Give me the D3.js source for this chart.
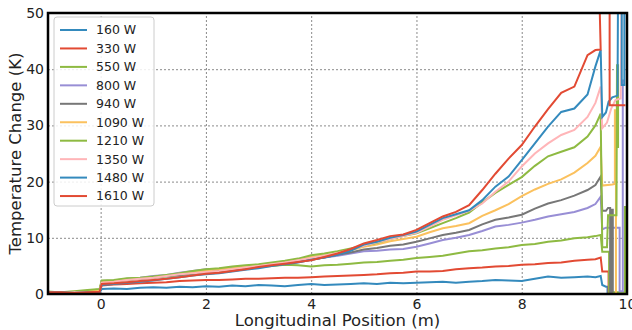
<!DOCTYPE html>
<html>
<head>
<meta charset="utf-8">
<script src="https://cdn.jsdelivr.net/npm/d3@7"></script>
<style>
  html, body { margin: 0; padding: 0; background: #fff; }
  svg { display: block; }
  text { font-family: "DejaVu Sans", sans-serif; fill: #222; }
</style>
</head>
<body>
<svg id="chart" width="632" height="330"></svg>
<script>
// ---------------- DATA ----------------
const categories = ["160 W", "330 W", "550 W", "800 W", "940 W", "1090 W", "1210 W", "1350 W", "1480 W", "1610 W"];
const xTicks = [0, 2, 4, 6, 8, 10];
const yTicks = [0, 10, 20, 30, 40, 50];

// shared longitudinal positions (m)
const positions = [-1, -0.75, -0.5, -0.25, -0.02, 0.02, 0.25, 0.5, 0.75, 1.0, 1.25, 1.5, 1.75, 2.0, 2.25, 2.5, 2.75, 3.0, 3.25, 3.5, 3.75, 4.0, 4.25, 4.5, 4.75, 5.0, 5.25, 5.5, 5.75, 6.0, 6.25, 6.5, 6.75, 7.0, 7.25, 7.5, 7.75, 8.0, 8.25, 8.5, 8.75, 9.0, 9.25, 9.4, 9.5];

const v160  = [0.3, 0.2, 0.2, 0.1, 0.2, 0.9, 1.0, 0.9, 1.1, 1.2, 1.1, 1.3, 1.2, 1.4, 1.3, 1.5, 1.4, 1.6, 1.5, 1.4, 1.6, 1.8, 1.6, 1.7, 1.8, 1.9, 1.8, 2.0, 1.9, 2.0, 2.1, 2.2, 2.0, 2.2, 2.3, 2.5, 2.4, 2.3, 2.7, 3.1, 2.9, 3.0, 3.1, 3.0, 3.2];
const v330  = [0.3, 0.2, 0.3, 0.2, 0.3, 1.5, 1.7, 1.8, 1.9, 2.0, 2.1, 2.3, 2.4, 2.5, 2.5, 2.6, 2.7, 2.7, 2.8, 2.9, 2.9, 3.0, 3.1, 3.2, 3.3, 3.4, 3.5, 3.7, 3.8, 4.0, 4.0, 4.1, 4.4, 4.6, 4.7, 4.9, 5.0, 5.2, 5.3, 5.5, 5.6, 5.9, 6.1, 6.2, 6.5];
const v550  = [0.4, 0.3, 0.3, 0.6, 0.8, 2.1, 2.3, 2.5, 2.8, 3.0, 3.1, 3.4, 3.6, 4.1, 4.0, 4.3, 4.6, 4.8, 5.0, 5.2, 5.1, 4.9, 5.1, 5.2, 5.4, 5.6, 5.7, 5.9, 6.1, 6.4, 6.6, 6.8, 7.2, 7.6, 7.8, 8.1, 8.3, 8.7, 8.9, 9.3, 9.5, 9.9, 10.1, 10.3, 10.5];
const v800  = [0.3, 0.2, 0.3, 0.3, 0.4, 2.3, 2.4, 2.7, 2.9, 3.2, 3.4, 3.8, 4.1, 4.4, 4.5, 4.7, 5.0, 5.1, 5.3, 5.6, 5.8, 6.2, 6.5, 6.8, 7.2, 7.6, 7.7, 7.9, 8.0, 8.4, 9.0, 9.6, 10.0, 10.5, 11.2, 12.0, 12.3, 12.7, 13.2, 13.8, 14.2, 14.6, 15.3, 16.0, 17.3];
const v940  = [0.3, 0.3, 0.2, 0.3, 0.4, 2.1, 2.3, 2.5, 2.7, 2.9, 3.2, 3.4, 3.7, 4.0, 4.2, 4.4, 4.6, 4.9, 5.1, 5.4, 5.7, 6.1, 6.5, 7.0, 7.4, 7.9, 8.2, 8.6, 8.8, 9.3, 9.9, 10.5, 10.9, 11.4, 12.4, 13.2, 13.6, 14.1, 15.2, 16.1, 16.7, 17.5, 18.5, 19.4, 20.9];
const v1090 = [0.3, 0.3, 0.4, 0.5, 0.7, 2.2, 2.3, 2.6, 2.8, 3.0, 3.3, 3.6, 3.9, 4.2, 4.4, 4.6, 4.9, 5.1, 5.4, 5.7, 6.1, 6.6, 6.9, 7.3, 7.8, 8.4, 8.8, 9.4, 9.8, 10.2, 11.0, 11.7, 12.1, 12.6, 13.9, 14.9, 16.0, 17.4, 18.6, 19.6, 20.4, 21.6, 23.3, 24.6, 26.2];
const v1210 = [0.4, 0.3, 0.5, 0.7, 0.9, 2.4, 2.5, 2.8, 2.9, 3.1, 3.4, 3.7, 4.1, 4.4, 4.6, 4.9, 5.1, 5.3, 5.6, 5.9, 6.3, 6.9, 7.2, 7.6, 8.1, 8.6, 9.1, 9.8, 10.3, 10.8, 11.7, 12.6, 13.5, 14.5, 16.3, 18.0, 19.4, 20.8, 22.8, 24.5, 25.3, 26.1, 28.0, 30.0, 32.1];
const v1350 = [0.3, 0.2, 0.3, 0.3, 0.4, 2.0, 2.2, 2.5, 2.7, 2.9, 3.2, 3.5, 3.7, 3.9, 4.1, 4.4, 4.7, 5.0, 5.3, 5.6, 6.0, 6.4, 6.8, 7.3, 7.9, 8.6, 9.2, 9.8, 10.3, 10.9, 12.0, 13.2, 14.0, 14.8, 16.1, 18.2, 20.0, 22.7, 25.0, 26.8, 28.3, 29.2, 31.5, 34.0, 36.9];
const v1480 = [0.3, 0.3, 0.2, 0.3, 0.3, 1.6, 1.8, 2.0, 2.2, 2.4, 2.7, 3.0, 3.3, 3.5, 3.7, 4.0, 4.3, 4.6, 5.0, 5.3, 5.6, 6.1, 6.5, 7.0, 7.7, 8.8, 9.3, 10.0, 10.5, 11.1, 12.3, 13.5, 14.2, 14.9, 16.7, 19.1, 20.9, 23.8, 26.8, 29.8, 32.4, 33.0, 35.5, 40.5, 43.4];
const v1610 = [0.3, 0.3, 0.2, 0.3, 0.4, 1.8, 1.9, 2.1, 2.3, 2.5, 2.7, 3.0, 3.3, 3.6, 3.8, 4.1, 4.4, 4.8, 5.1, 5.4, 5.7, 6.0, 6.6, 7.2, 8.0, 9.0, 9.6, 10.3, 10.6, 11.4, 12.6, 13.8, 14.6, 15.8, 18.5, 21.4, 24.1, 26.5, 29.8, 32.9, 35.8, 36.9, 42.5, 43.4, 43.5];

// end-of-section behaviour after x = 9.5 m, as [position, value] pairs
const tail160  = [[9.53, 1.6], [9.6, 1.3], [9.63, 1.3], [9.63, 0.2], [9.7, 0.2]];
const tail330  = [[9.53, 4.0], [9.65, 4.0], [9.65, 0.3], [9.72, 0.3]];
const tail550  = [[9.53, 7.5], [9.66, 7.5], [9.66, 0.3], [9.96, 0.3], [9.96, 15.5], [9.98, 15.5], [9.98, 0.2]];
const tail800  = [[9.53, 11.5], [9.6, 11.8], [9.86, 11.8], [9.86, 0.5], [9.92, 0.5], [9.92, 38.0], [9.95, 38.0]];
const tail940  = [[9.53, 14.8], [9.6, 14.8], [9.64, 15.3], [9.68, 15.3], [9.68, 0.3], [9.71, 0.3], [9.71, 15.0], [9.73, 15.0], [9.73, 0.3]];
const tail1090 = [[9.53, 19.3], [9.72, 19.5], [9.77, 19.6], [9.77, 32.7], [9.79, 32.7], [9.79, 0.2], [9.81, 0.2]];
const tail1210 = [[9.53, 8.3], [9.62, 8.3], [9.64, 14.0], [9.8, 14.0], [9.81, 40.7], [9.83, 40.7], [9.83, 26.0]];
const tail1350 = [[9.53, 29.5], [9.62, 30.5], [9.7, 33.0], [9.78, 34.5], [9.88, 34.8], [9.9, 55.0]];
const tail1480 = [[9.53, 31.5], [9.6, 32.3], [9.65, 34.2], [9.72, 35.0], [9.82, 35.3], [9.83, 55.0], [9.9, 55.0], [9.9, 37.2], [9.95, 37.2], [9.95, 55.0]];
const tail1610 = [[9.47, 55.0], [9.67, 55.0], [9.67, 33.6], [9.97, 33.6]];

const seriesValues = [v160, v330, v550, v800, v940, v1090, v1210, v1350, v1480, v1610];
const seriesTails  = [tail160, tail330, tail550, tail800, tail940, tail1090, tail1210, tail1350, tail1480, tail1610];
const colors = ["#348ABD", "#E24A33", "#8EBA42", "#988ED5", "#777777", "#FBC15E", "#8EBA42", "#FFB5B8", "#348ABD", "#E24A33"];

// ---------------- CHART ----------------
const svg = d3.select("#chart");
const m = { left: 48, right: 5, top: 13, bottom: 36 };
const W = 632, H = 330;
const x = d3.scaleLinear().domain([-1, 10]).range([m.left, W - m.right]);
const y = d3.scaleLinear().domain([0, 50]).range([H - m.bottom, m.top]);

svg.append("defs").append("clipPath").attr("id", "plot")
  .append("rect")
  .attr("x", m.left).attr("y", m.top)
  .attr("width", W - m.left - m.right).attr("height", H - m.top - m.bottom);

// grid
const grid = svg.append("g");
grid.append("g").attr("transform", `translate(0,${H - m.bottom})`)
  .call(d3.axisBottom(x).tickValues(xTicks).tickSize(-(H - m.top - m.bottom)).tickFormat(""))
  .call(g => g.select(".domain").remove())
  .call(g => g.selectAll("line").attr("stroke", "#8a8a8a").attr("stroke-width", 1).attr("stroke-dasharray", "2,2"));
grid.append("g").attr("transform", `translate(${m.left},0)`)
  .call(d3.axisLeft(y).tickValues(yTicks).tickSize(-(W - m.left - m.right)).tickFormat(""))
  .call(g => g.select(".domain").remove())
  .call(g => g.selectAll("line").attr("stroke", "#8a8a8a").attr("stroke-width", 1).attr("stroke-dasharray", "2,2"));

// lines
const line = d3.line().x(d => x(d[0])).y(d => y(d[1]));
const plot = svg.append("g").attr("clip-path", "url(#plot)");
seriesValues.forEach((vals, i) => {
  const pts = positions.map((p, j) => [p, vals[j]]).concat(seriesTails[i]);
  plot.append("path")
    .datum(pts)
    .attr("fill", "none")
    .attr("stroke", colors[i])
    .attr("stroke-width", 2)
    .attr("stroke-linejoin", "miter")
    .attr("d", line);
});

// frame
svg.append("rect")
  .attr("x", m.left).attr("y", m.top)
  .attr("width", W - m.left - m.right).attr("height", H - m.top - m.bottom)
  .attr("fill", "none").attr("stroke", "#000").attr("stroke-width", 2.5);

// axes labels
const xAxis = svg.append("g").attr("transform", `translate(0,${H - m.bottom})`)
  .call(d3.axisBottom(x).tickValues(xTicks).tickSize(0).tickPadding(5).tickFormat(d3.format("d")));
xAxis.select(".domain").remove();
xAxis.selectAll("text").attr("font-size", 14).attr("font-family", "DejaVu Sans").attr("fill", "#222");

const yAxis = svg.append("g").attr("transform", `translate(${m.left},0)`)
  .call(d3.axisLeft(y).tickValues(yTicks).tickSize(0).tickPadding(4).tickFormat(d3.format("d")));
yAxis.select(".domain").remove();
yAxis.selectAll("text").attr("font-size", 14).attr("font-family", "DejaVu Sans").attr("fill", "#222");

svg.append("text")
  .attr("x", (m.left + W - m.right) / 2).attr("y", 326)
  .attr("text-anchor", "middle").attr("font-size", 16.5)
  .text("Longitudinal Position (m)");
svg.append("text")
  .attr("transform", `translate(21,${(m.top + H - m.bottom) / 2}) rotate(-90)`)
  .attr("text-anchor", "middle").attr("font-size", 16.5)
  .text("Temperature Change (K)");

// legend
const lg = svg.append("g");
lg.append("rect")
  .attr("x", 54).attr("y", 17).attr("width", 100).attr("height", 189)
  .attr("rx", 3).attr("fill", "#fff").attr("fill-opacity", 0.85)
  .attr("stroke", "#cccccc").attr("stroke-width", 1);
categories.forEach((c, i) => {
  const yy = 30 + i * 18.45;
  lg.append("line").attr("x1", 60).attr("x2", 87).attr("y1", yy).attr("y2", yy)
    .attr("stroke", colors[i]).attr("stroke-width", 2);
  lg.append("text").attr("x", 96).attr("y", yy).attr("dy", "0.35em")
    .attr("font-size", 12.5).text(c);
});
</script>
</body>
</html>
